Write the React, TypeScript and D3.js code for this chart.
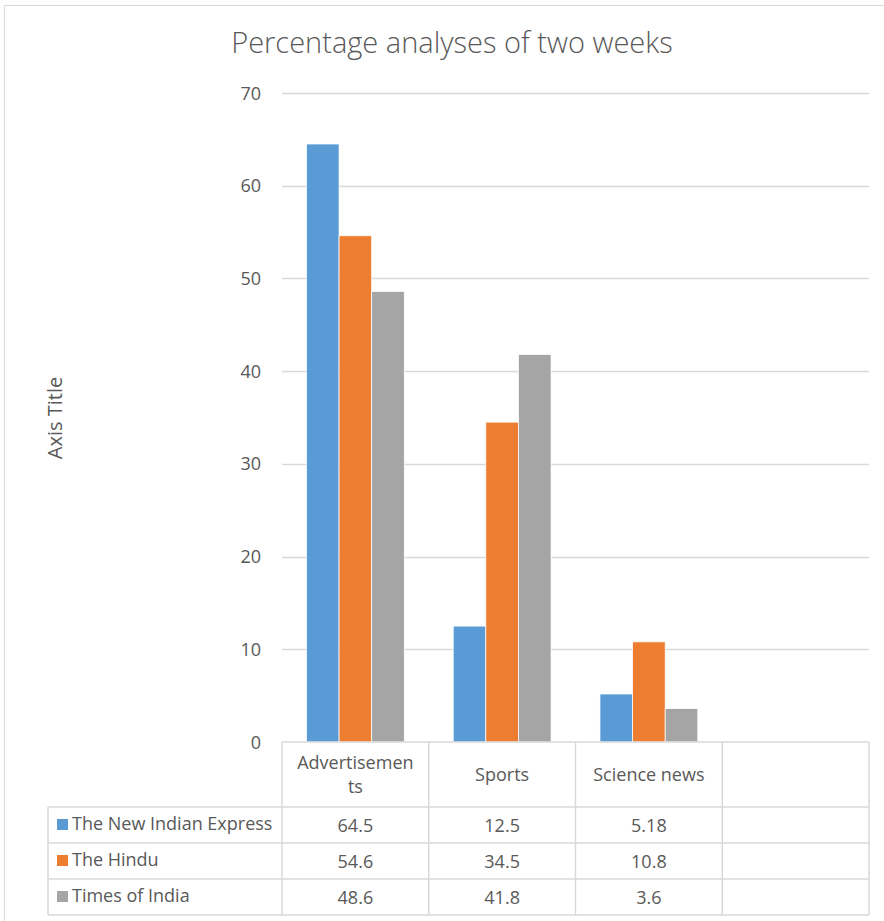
import React, { useRef, useEffect } from 'react'
import * as d3 from 'd3'

const categories = ['Advertisements', 'Sports', 'Science news', '']
const headerLines = [['Advertisemen', 'ts'], ['Sports'], ['Science news'], []]
const seriesNames = ['The New Indian Express', 'The Hindu', 'Times of India']
const newIndianExpress = [64.5, 12.5, 5.18]
const theHindu = [54.6, 34.5, 10.8]
const timesOfIndia = [48.6, 41.8, 3.6]
const yTicks = [0, 10, 20, 30, 40, 50, 60, 70]
const colors = ['#5B9BD5', '#ED7D31', '#A5A5A5']

const W = 884
const H = 921

export default function App() {
  const ref = useRef<SVGSVGElement>(null)

  useEffect(() => {
    const svg = d3.select(ref.current)
    svg.selectAll('*').remove()
    const series = [newIndianExpress, theHindu, timesOfIndia]
    const font = 'Open Sans, Liberation Sans, sans-serif'
    const textColor = '#595959'
    const grid = '#D9D9D9'

    const left = 282
    const right = 869
    const top = 93
    const bottom = 742

    const x = d3.scaleBand().domain(categories.map((c, i) => String(i))).range([left, right])
    const inner = d3
      .scaleBand()
      .domain(seriesNames)
      .range([0, x.bandwidth()])
      .paddingInner(0)
      .paddingOuter(0.75)
    const y = d3.scaleLinear().domain([0, 70]).range([bottom, top])

    // chart border
    svg
      .append('path')
      .attr('d', `M4.5,${H} V5.5 H${W}`)
      .attr('fill', 'none')
      .attr('stroke', grid)

    svg
      .append('text')
      .attr('x', 452)
      .attr('y', 53)
      .attr('text-anchor', 'middle')
      .attr('font-family', font)
      .attr('font-weight', 300)
      .attr('font-size', 29)
      .attr('fill', textColor)
      .text('Percentage analyses of two weeks')

    // gridlines
    svg
      .append('g')
      .selectAll('line')
      .data(yTicks.filter(t => t > 0))
      .enter()
      .append('line')
      .attr('x1', left)
      .attr('x2', right)
      .attr('y1', d => Math.round(y(d)) + 0.5)
      .attr('y2', d => Math.round(y(d)) + 0.5)
      .attr('stroke', grid)
      .attr('stroke-width', 1.5)

    svg
      .append('g')
      .selectAll('text')
      .data(yTicks)
      .enter()
      .append('text')
      .attr('x', 261)
      .attr('y', d => y(d) + 6.5)
      .attr('text-anchor', 'end')
      .attr('font-family', font)
      .attr('font-size', 18)
      .attr('fill', textColor)
      .text(d => d)

    svg
      .append('text')
      .attr('transform', 'translate(62,418) rotate(-90)')
      .attr('text-anchor', 'middle')
      .attr('font-family', font)
      .attr('font-size', 20)
      .attr('fill', textColor)
      .text('Axis Title')

    // bars
    series.forEach((vals, si) => {
      svg
        .append('g')
        .selectAll('rect')
        .data(vals)
        .enter()
        .append('rect')
        .attr('x', (d, i) => x(String(i))! + inner(seriesNames[si])!)
        .attr('y', d => y(d))
        .attr('width', inner.bandwidth())
        .attr('height', d => y(0) - y(d))
        .attr('fill', colors[si])
        .attr('stroke', '#fff')
        .attr('stroke-width', 0.75)
    })

    // data table
    const legendLeft = 48
    const headerBottom = 807
    const rowH = 36
    const rowYs = seriesNames.map((s, i) => headerBottom + i * rowH)
    const tableBottom = headerBottom + seriesNames.length * rowH
    const lines = svg.append('g').attr('stroke', grid).attr('stroke-width', 1.5)
    lines
      .append('line')
      .attr('x1', left)
      .attr('x2', right)
      .attr('y1', bottom)
      .attr('y2', bottom)
    ;[...rowYs, tableBottom].forEach(ry => {
      lines
        .append('line')
        .attr('x1', legendLeft)
        .attr('x2', right)
        .attr('y1', ry)
        .attr('y2', ry)
    })
    categories.forEach((c, i) => {
      lines
        .append('line')
        .attr('x1', x(String(i))!)
        .attr('x2', x(String(i))!)
        .attr('y1', bottom)
        .attr('y2', tableBottom)
    })
    lines
      .append('line')
      .attr('x1', right)
      .attr('x2', right)
      .attr('y1', bottom)
      .attr('y2', tableBottom)
    lines
      .append('line')
      .attr('x1', legendLeft)
      .attr('x2', legendLeft)
      .attr('y1', headerBottom)
      .attr('y2', tableBottom)

    // header
    headerLines.forEach((ls, i) => {
      const cx = x(String(i))! + x.bandwidth() / 2
      const startY = 774 + 6.5 - ((ls.length - 1) * 24) / 2
      ls.forEach((l, j) => {
        svg
          .append('text')
          .attr('x', cx)
          .attr('y', startY + j * 24)
          .attr('text-anchor', 'middle')
          .attr('font-family', font)
          .attr('font-size', 18)
          .attr('fill', textColor)
          .text(l)
      })
    })

    // rows
    series.forEach((vals, si) => {
      const cy = rowYs[si] + rowH / 2
      svg
        .append('rect')
        .attr('x', 57)
        .attr('y', cy - 6)
        .attr('width', 11)
        .attr('height', 11)
        .attr('fill', colors[si])
      svg
        .append('text')
        .attr('x', 72)
        .attr('y', cy + 5)
        .attr('font-family', font)
        .attr('font-size', 18)
        .attr('fill', textColor)
        .text(seriesNames[si])
      vals.forEach((v, i) => {
        svg
          .append('text')
          .attr('x', x(String(i))! + x.bandwidth() / 2)
          .attr('y', cy + 7)
          .attr('text-anchor', 'middle')
          .attr('font-family', font)
          .attr('font-size', 18)
          .attr('fill', textColor)
          .text(v)
      })
    })
  }, [])

  return (
    <svg
      ref={ref}
      width={W}
      height={H}
      style={{ position: 'absolute', left: 0, top: 0, background: '#fff' }}
    />
  )
}
